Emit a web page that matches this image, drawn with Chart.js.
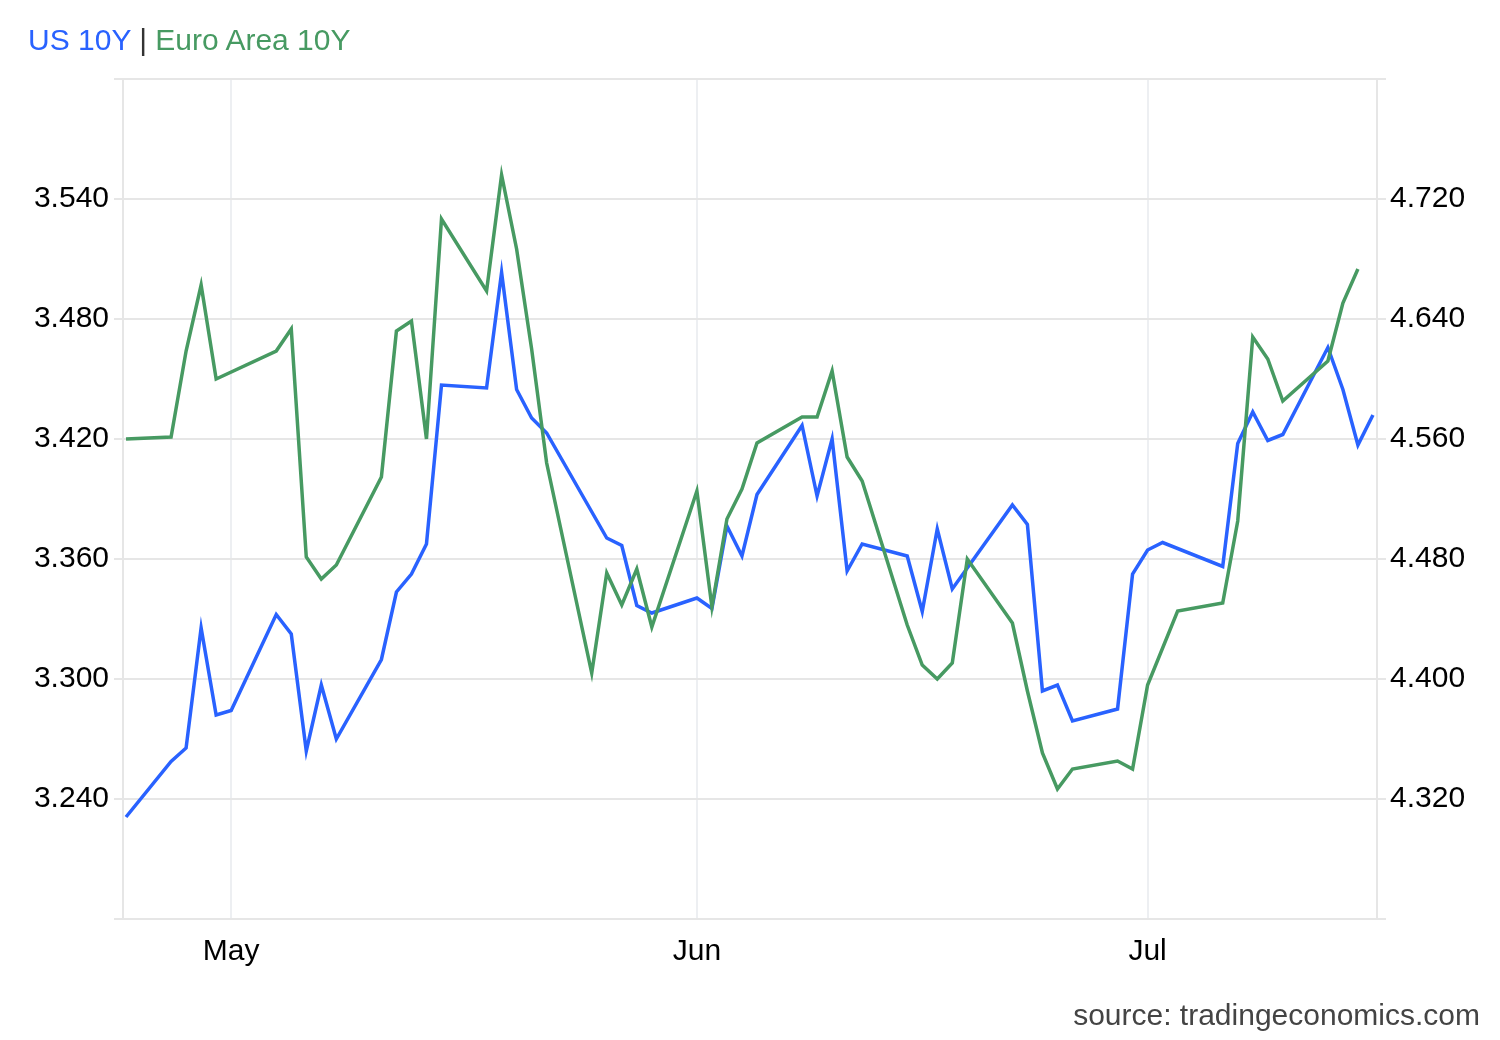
<!DOCTYPE html>
<html>
<head>
<meta charset="utf-8">
<script src="https://cdn.jsdelivr.net/npm/chart.js@4.4.1/dist/chart.umd.min.js"></script>
<style>
  html, body { margin: 0; padding: 0; background: #ffffff; }
  #wrap { position: relative; width: 1500px; height: 1040px; overflow: hidden; }
  #c { position: absolute; left: 0; top: 0; }
  .txt { position: absolute; font-family: "Liberation Sans", Arial, sans-serif; font-size: 30px; line-height: 30px; white-space: nowrap; }
  #title { left: 28px; top: 25px; }
  #source { right: 20px; top: 1000px; color: #444444; }
</style>
</head>
<body>
<div id="wrap">
  <canvas id="c" width="1500" height="1040"></canvas>
  <div id="title" class="txt"><span style="color:#2962ff">US 10Y</span><span style="color:#333333"> | </span><span style="color:#479a62">Euro Area 10Y</span></div>
  <div id="source" class="txt">source: tradingeconomics.com</div>
</div>
<script>
// ---- data ----
const dates = [
  '2026-04-24','2026-04-27','2026-04-28','2026-04-29','2026-04-30','2026-05-01',
  '2026-05-04','2026-05-05','2026-05-06','2026-05-07','2026-05-08',
  '2026-05-11','2026-05-12','2026-05-13','2026-05-14','2026-05-15',
  '2026-05-18','2026-05-19','2026-05-20','2026-05-21','2026-05-22',
  '2026-05-25','2026-05-26','2026-05-27','2026-05-28','2026-05-29',
  '2026-06-01','2026-06-02','2026-06-03','2026-06-04','2026-06-05',
  '2026-06-08','2026-06-09','2026-06-10','2026-06-11','2026-06-12',
  '2026-06-15','2026-06-16','2026-06-17','2026-06-18','2026-06-19',
  '2026-06-22','2026-06-23','2026-06-24','2026-06-25','2026-06-26',
  '2026-06-29','2026-06-30','2026-07-01','2026-07-02','2026-07-03',
  '2026-07-06','2026-07-07','2026-07-08','2026-07-09','2026-07-10',
  '2026-07-13','2026-07-14','2026-07-15','2026-07-16'
];
const usYields = [
  4.308, 4.345, 4.354, 4.434, 4.376, 4.379,
  4.443, 4.430, 4.352, 4.396, 4.360,
  4.413, 4.458, 4.470, 4.490, 4.596,
  4.594, 4.671, 4.593, 4.574, 4.564,
  null,  4.494, 4.489, 4.449, 4.444,
  4.454, 4.447, 4.502, 4.482, 4.523,
  4.569, 4.522, 4.560, 4.472, 4.490,
  4.482, 4.445, 4.500, 4.460, null,
  4.516, 4.503, 4.392, 4.396, 4.372,
  4.380, 4.470, 4.486, 4.491, null,
  4.475, 4.557, 4.578, 4.559, 4.563,
  4.621, 4.593, 4.556, 4.576
];
const euYields = [
  3.420, 3.421, 3.464, 3.497, 3.450, null,
  3.464, 3.475, 3.361, 3.350, 3.357,
  3.401, 3.474, 3.479, 3.420, 3.530,
  3.494, 3.552, 3.515, 3.465, 3.408,
  3.303, 3.353, 3.337, 3.355, 3.326,
  3.394, 3.336, 3.380, 3.395, 3.418,
  3.431, 3.431, 3.454, 3.411, 3.399,
  3.327, 3.307, 3.300, 3.308, 3.360,
  3.328, 3.294, 3.263, 3.245, 3.255,
  3.259, 3.255, 3.297, null,  3.334,
  3.338, 3.379, 3.471, 3.460, 3.439,
  3.459, 3.488, 3.505, null
];
const monthTickDates = ['2026-05-01', '2026-06-01', '2026-07-01'];
const monthTickLabels = ['May', 'Jun', 'Jul'];
const euAxisTicks = [3.240, 3.300, 3.360, 3.420, 3.480, 3.540];
const usAxisTicks = [4.320, 4.400, 4.480, 4.560, 4.640, 4.720];

// ---- helpers ----
const DAY = 86400000;
const t0 = Date.parse(dates[0]);
const dayNum = d => (Date.parse(d) - t0) / DAY;

const BLUE = '#2962ff';
const GREEN = '#479a62';
const GRID = '#e6e6e6';
const FONT = { family: '"Liberation Sans", Arial, sans-serif', size: 30 };

const usData = dates.map((d, i) => ({ x: dayNum(d), y: usYields[i] }));
const euData = dates.map((d, i) => ({ x: dayNum(d), y: euYields[i] }));

function yAxis(position, min, max, ticks, drawArea) {
  return {
    type: 'linear',
    position: position,
    min: min,
    max: max,
    afterBuildTicks: s => { s.ticks = [min, ...ticks, max].map(v => ({ value: v })); },
    afterFit: s => { s.width = 123; },
    ticks: {
      color: '#000000',
      font: FONT,
      padding: position === 'left' ? 5 : 4,
      callback: (v, i, arr) => (i === 0 || i === arr.length - 1) ? '' : Number(v).toFixed(3)
    },
    grid: {
      color: GRID,
      lineWidth: 2,
      tickLength: 9,
      drawOnChartArea: drawArea
    },
    border: { display: true, color: GRID, width: 2 }
  };
}

new Chart(document.getElementById('c'), {
  type: 'line',
  data: {
    datasets: [
      {
        label: 'US 10Y',
        data: usData,
        yAxisID: 'yUS',
        borderColor: BLUE,
        borderWidth: 3.5,
        pointRadius: 0,
        tension: 0,
        spanGaps: true,
        fill: false,
        order: 1
      },
      {
        label: 'Euro Area 10Y',
        data: euData,
        yAxisID: 'yEU',
        borderColor: GREEN,
        borderWidth: 3.5,
        pointRadius: 0,
        tension: 0,
        spanGaps: true,
        fill: false,
        order: 0
      }
    ]
  },
  options: {
    responsive: false,
    animation: false,
    devicePixelRatio: 1,
    layout: { padding: { top: 79, left: 0, right: 0, bottom: 0 } },
    plugins: { legend: { display: false }, tooltip: { enabled: false }, title: { display: false } },
    scales: {
      x: {
        type: 'linear',
        min: -0.2,
        max: 83.27,
        afterBuildTicks: s => { s.ticks = monthTickDates.map(d => ({ value: dayNum(d) })); },
        afterFit: s => { s.height = 121; },
        ticks: {
          color: '#000000',
          font: FONT,
          padding: 15,
          autoSkip: false,
          maxRotation: 0,
          callback: (v, i) => monthTickLabels[i]
        },
        grid: { color: '#edeff2', lineWidth: 2, drawTicks: false, tickLength: 0 },
        border: { display: true, color: GRID, width: 2 }
      },
      yEU: yAxis('left', 3.18, 3.60, euAxisTicks, true),
      yUS: yAxis('right', 4.24, 4.80, usAxisTicks, false)
    }
  }
});
</script>
</body>
</html>
